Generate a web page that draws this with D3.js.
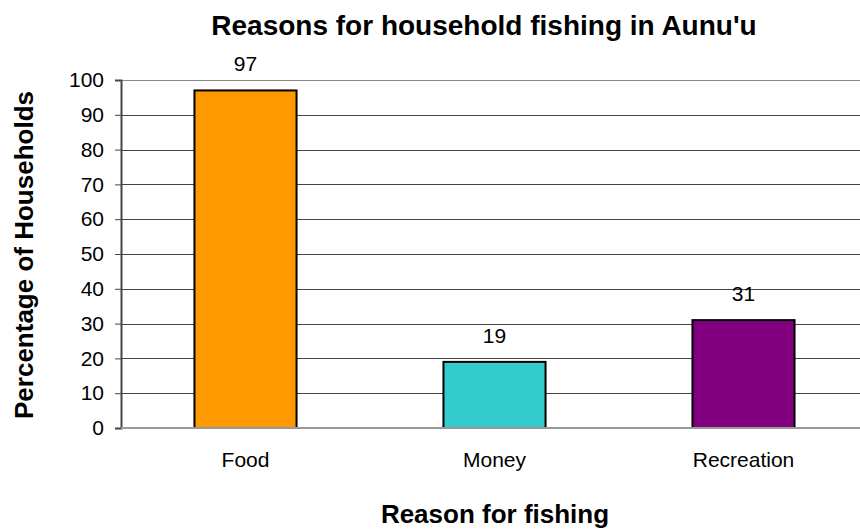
<!DOCTYPE html>
<html>
<head>
<meta charset="utf-8">
<script src="https://cdn.jsdelivr.net/npm/d3@7"></script>
<style>
  body { margin: 0; background: #fff; }
  text { font-family: "Liberation Sans", Arial, sans-serif; fill: #000; }
</style>
</head>
<body>
<div id="chart"></div>
<script>
const categories = ["Food", "Money", "Recreation"];
const values = [97, 19, 31];
const colors = ["#FF9900", "#33CCCC", "#800080"];
const yTicks = [0, 10, 20, 30, 40, 50, 60, 70, 80, 90, 100];

const width = 860, height = 532;
const margin = { top: 80, right: -8, bottom: 104, left: 121 };

const svg = d3.select("#chart").append("svg")
    .attr("width", width)
    .attr("height", height);

const x = d3.scaleBand()
    .domain(categories)
    .range([margin.left, width - margin.right])
    .paddingInner(0.59)
    .paddingOuter(0.295);

const y = d3.scaleLinear()
    .domain([0, 100])
    .range([height - margin.bottom, margin.top]);

// gridlines
svg.append("g")
    .selectAll("line")
    .data(yTicks.filter(d => d > 0))
    .join("line")
    .attr("x1", margin.left)
    .attr("x2", width - margin.right)
    .attr("y1", d => Math.round(y(d)) + 0.5)
    .attr("y2", d => Math.round(y(d)) + 0.5)
    .attr("stroke", d => d === 100 ? "#888" : "#444")
    .attr("stroke-width", 1);

// bars
svg.append("g")
    .selectAll("rect")
    .data(values)
    .join("rect")
    .attr("x", (d, i) => x(categories[i]))
    .attr("y", d => y(d))
    .attr("width", x.bandwidth())
    .attr("height", d => y(0) - y(d))
    .attr("fill", (d, i) => colors[i])
    .attr("stroke", "#000")
    .attr("stroke-width", 2);

// value labels
svg.append("g")
    .selectAll("text")
    .data(values)
    .join("text")
    .attr("x", (d, i) => x(categories[i]) + x.bandwidth() / 2)
    .attr("y", d => y(d) - 19)
    .attr("text-anchor", "middle")
    .style("font-size", "21px")
    .text(d => d);

// y axis
const yAxis = svg.append("g")
    .attr("transform", `translate(${margin.left},0)`)
    .call(d3.axisLeft(y).tickValues(yTicks).tickSize(6).tickPadding(11));
yAxis.select(".domain").attr("stroke", "#444").attr("stroke-width", 2);
yAxis.selectAll(".tick line").attr("stroke", "#444");
yAxis.selectAll(".tick text")
    .style("font-size", "21px")
    .style("font-family", "Liberation Sans, Arial, sans-serif")
    .attr("fill", "#000");

// x axis baseline
svg.append("line")
    .attr("x1", margin.left)
    .attr("x2", width - margin.right)
    .attr("y1", y(0))
    .attr("y2", y(0))
    .attr("stroke", "#999")
    .attr("stroke-width", 2);

// category labels
svg.append("g")
    .selectAll("text")
    .data(categories)
    .join("text")
    .attr("x", d => x(d) + x.bandwidth() / 2)
    .attr("y", 467)
    .attr("text-anchor", "middle")
    .style("font-size", "21px")
    .text(d => d);

// titles
svg.append("text")
    .attr("x", 484)
    .attr("y", 35)
    .attr("text-anchor", "middle")
    .style("font-size", "28px")
    .style("font-weight", "bold")
    .text("Reasons for household fishing in Aunu'u");

svg.append("text")
    .attr("x", 495)
    .attr("y", 523)
    .attr("text-anchor", "middle")
    .style("font-size", "26px")
    .style("font-weight", "bold")
    .text("Reason for fishing");

svg.append("text")
    .attr("transform", "translate(33,255) rotate(-90)")
    .attr("text-anchor", "middle")
    .style("font-size", "26px")
    .style("font-weight", "bold")
    .text("Percentage of Households");
</script>
</body>
</html>
